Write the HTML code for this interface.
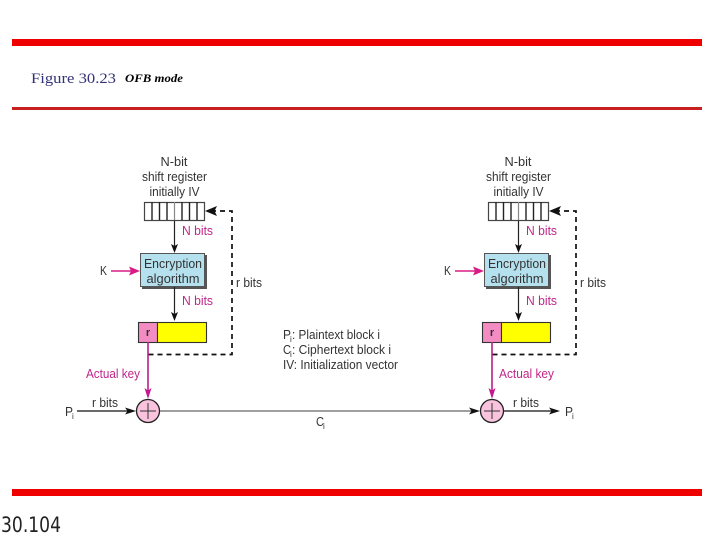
<!DOCTYPE html>
<html><head><meta charset="utf-8"><style>
html,body{margin:0;padding:0;background:#fff}
svg{display:block}
text{font-family:"Liberation Sans",sans-serif;font-size:12.500px;fill:#333}
.c{text-anchor:middle}
.m{fill:#c2268a}
.s{font-size:8px}
</style></head><body>
<svg width="720" height="540" viewBox="0 0 720 540" xmlns="http://www.w3.org/2000/svg">
<defs>
<g id="unit">
<text class="c" x="174" y="166" textLength="27" lengthAdjust="spacingAndGlyphs">N-bit</text>
<text class="c" x="174.500" y="181" textLength="65" lengthAdjust="spacingAndGlyphs">shift register</text>
<text class="c" x="174.500" y="196" textLength="50" lengthAdjust="spacingAndGlyphs">initially IV</text>
<rect x="144.500" y="202.500" width="60" height="18" fill="#fff" stroke="#444" stroke-width="1.200"/>
<path d="M152 202v18M159.500 202v18M167 202v18M182 202v18M189.500 202v18M197 202v18" stroke="#222" stroke-width="1.400" fill="none"/>
<path d="M174.500 202v18" stroke="#888" stroke-width="1.200" fill="none"/>
<path d="M174.500 221V250" stroke="#222" stroke-width="1.200"/>
<path d="M174.500 253l-3.500-9 3.500 2 3.500-2z" fill="#111"/>
<text class="m" x="182" y="235" textLength="31" lengthAdjust="spacingAndGlyphs">N bits</text>
<rect x="142" y="255" width="65" height="34" fill="#555"/>
<rect x="140.500" y="253.500" width="64" height="33" fill="#b5e1ee" stroke="#555" stroke-width="1"/>
<text class="c" x="173" y="268" textLength="58" lengthAdjust="spacingAndGlyphs">Encryption</text>
<text class="c" x="173" y="283" textLength="53" lengthAdjust="spacingAndGlyphs">algorithm</text>
<text x="100" y="275" textLength="7" lengthAdjust="spacingAndGlyphs">K</text>
<path d="M111 271H135" stroke="#d81b85" stroke-width="1.500"/>
<path d="M140 271l-11-4.500 2 4.500-2 4.500z" fill="#d81b85"/>
<path d="M174.500 287V318" stroke="#222" stroke-width="1.200"/>
<path d="M174.500 321l-3.500-9 3.500 2 3.500-2z" fill="#111"/>
<text class="m" x="182" y="305" textLength="31" lengthAdjust="spacingAndGlyphs">N bits</text>
<text x="236" y="287" textLength="26" lengthAdjust="spacingAndGlyphs">r bits</text>
<rect x="138.500" y="322.500" width="19" height="20" fill="#f48cc4" stroke="#333" stroke-width="1.100"/>
<rect x="157.500" y="322.500" width="49" height="20" fill="#ffff00" stroke="#333" stroke-width="1.100"/>
<text class="c" x="148" y="336" style="font-size:11px;font-weight:bold">r</text>
<path d="M148.500 354.500H232V211H214" fill="none" stroke="#111" stroke-width="1.700" stroke-dasharray="5 4"/>
<path d="M205 211l12-5-2.500 5 2.500 5z" fill="#111"/>
<path d="M148 342V396" stroke="#b81f87" stroke-width="1.600"/>
<path d="M148 399l-3.500-11 3.500 2.500 3.500-2.500z" fill="#c8168c"/>
<circle cx="148" cy="411" r="11.500" fill="#f9c3de" stroke="#222" stroke-width="1.300"/>
<path d="M148 403v16M140 411h16" stroke="#333" stroke-width="1"/>
</g>
</defs>

<rect x="12" y="39" width="690" height="7" fill="#ee0000"/>
<rect x="12" y="107" width="690" height="3" fill="#c81f1f"/>
<rect x="12" y="489" width="690" height="7" fill="#ee0000"/>

<text x="31" y="83" style="font-family:'Liberation Serif',serif;font-size:15px;fill:#333377" textLength="85" lengthAdjust="spacingAndGlyphs">Figure 30.23</text>
<text x="125" y="82" style="font-family:'Liberation Serif',serif;font-size:12px;font-weight:bold;font-style:italic;fill:#000" textLength="58" lengthAdjust="spacingAndGlyphs">OFB mode</text>

<use href="#unit"/>
<use href="#unit" x="344"/>

<text class="m" x="86" y="378" textLength="54" lengthAdjust="spacingAndGlyphs">Actual key</text>
<text class="m" x="499" y="378" textLength="55" lengthAdjust="spacingAndGlyphs">Actual key</text>

<text x="65" y="416" textLength="8" lengthAdjust="spacingAndGlyphs">P</text>
<text class="s" x="72" y="419">i</text>
<text x="92" y="407" textLength="26" lengthAdjust="spacingAndGlyphs">r bits</text>
<path d="M77 411H130" stroke="#111" stroke-width="1.200"/>
<path d="M136 411l-11-3.500 2.500 3.500-2.500 3.500z" fill="#111"/>

<path d="M160 411H474" stroke="#666" stroke-width="1.200"/>
<path d="M480 411l-11-3.500 2.500 3.500-2.500 3.500z" fill="#111"/>
<text x="316" y="426" textLength="8" lengthAdjust="spacingAndGlyphs">C</text>
<text class="s" x="323" y="429">i</text>

<path d="M504 411H554" stroke="#111" stroke-width="1.200"/>
<path d="M560 411l-11-3.500 2.500 3.500-2.500 3.500z" fill="#111"/>
<text x="513" y="407" textLength="26" lengthAdjust="spacingAndGlyphs">r bits</text>
<text x="565" y="416" textLength="8" lengthAdjust="spacingAndGlyphs">P</text>
<text class="s" x="572" y="419">i</text>

<text x="283" y="339" textLength="8" lengthAdjust="spacingAndGlyphs">P</text>
<text class="s" x="290" y="342">i</text>
<text x="292" y="339" textLength="88" lengthAdjust="spacingAndGlyphs">: Plaintext block i</text>
<text x="283" y="354" textLength="8" lengthAdjust="spacingAndGlyphs">C</text>
<text class="s" x="290" y="357">i</text>
<text x="292" y="354" textLength="99" lengthAdjust="spacingAndGlyphs">: Ciphertext block i</text>
<text x="283" y="369" textLength="115" lengthAdjust="spacingAndGlyphs">IV: Initialization vector</text>

<text x="1" y="532" style="font-family:'DejaVu Sans',sans-serif;font-size:21px;fill:#222" textLength="60" lengthAdjust="spacingAndGlyphs">30.104</text>
</svg>
</body></html>
